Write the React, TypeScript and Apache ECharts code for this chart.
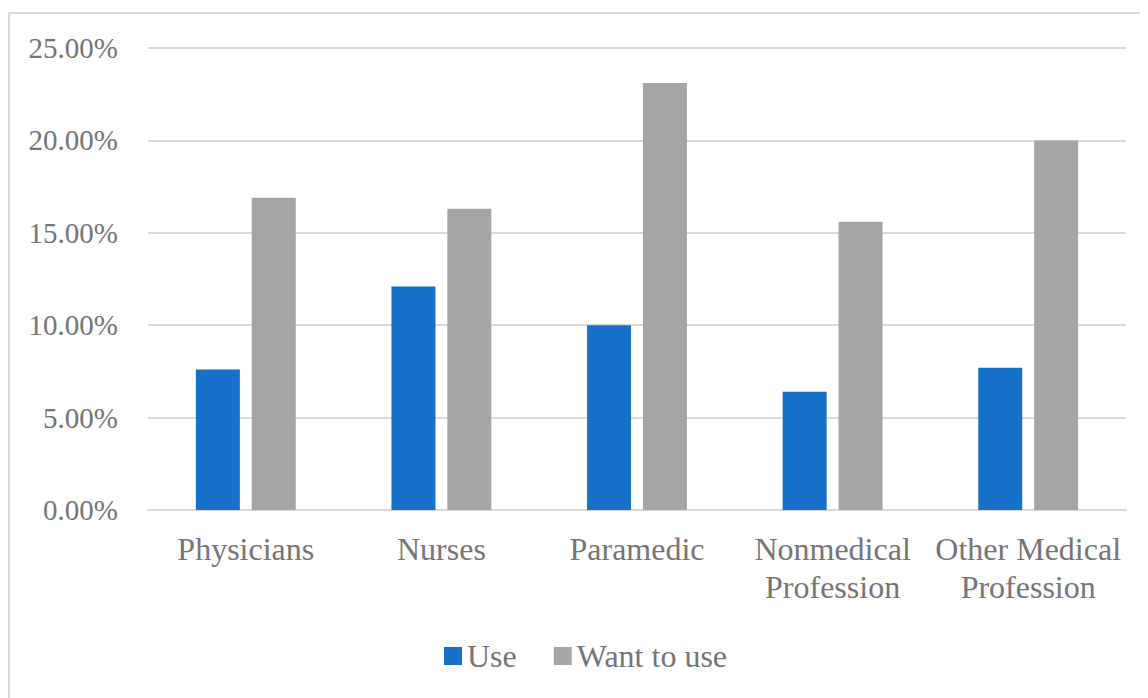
import React, { useEffect, useRef } from "react";
import * as echarts from "echarts";

const categories = ["Physicians", "Nurses", "Paramedic", "Nonmedical\nProfession", "Other Medical\nProfession"];
const useValues = [7.6, 12.1, 10.0, 6.4, 7.7];
const wantValues = [16.9, 16.3, 23.1, 15.6, 20.0];
const seriesNames = ["Use", "Want to use"];

const FONT = "'Liberation Serif', serif";
const TEXT = "#757575";

export default function App() {
  const ref = useRef<HTMLDivElement>(null);
  useEffect(() => {
    const chart = echarts.init(ref.current!, null, { renderer: "svg" });
    chart.setOption({
      animation: false,
      textStyle: { fontFamily: FONT },
      graphic: [
        { type: "line", shape: { x1: 0, y1: 5, x2: 1140, y2: 5 }, style: { stroke: "#d9d9d9", lineWidth: 2 } },
        { type: "line", shape: { x1: 1, y1: 5, x2: 1, y2: 690 }, style: { stroke: "#d9d9d9", lineWidth: 2 } },
      ],
      grid: { left: 140, right: 22, top: 40, bottom: 188, containLabel: false },
      legend: {
        data: seriesNames,
        left: 431,
        top: 627,
        icon: "rect",
        itemWidth: 18,
        itemHeight: 18,
        itemGap: 37,
        textStyle: { fontFamily: FONT, fontSize: 32, color: TEXT },
      },
      xAxis: {
        type: "category",
        data: categories,
        axisLine: { lineStyle: { color: "#d9d9d9", width: 2 } },
        axisTick: { show: false },
        axisLabel: { fontFamily: FONT, fontSize: 32, color: TEXT, margin: 20, lineHeight: 38, interval: 0 },
      },
      yAxis: {
        type: "value",
        min: 0,
        max: 25,
        interval: 5,
        axisLine: { show: false },
        axisTick: { show: false },
        splitLine: { lineStyle: { color: "#d9d9d9", width: 2 } },
        axisLabel: {
          fontFamily: FONT,
          fontSize: 29,
          color: TEXT,
          margin: 30,
          formatter: (v: number) => v.toFixed(2) + "%",
        },
      },
      series: [
        { name: seriesNames[0], type: "bar", data: useValues, barWidth: 44, barGap: "27%", itemStyle: { color: "#1871c9" } },
        { name: seriesNames[1], type: "bar", data: wantValues, barWidth: 44, barGap: "27%", itemStyle: { color: "#a5a5a5" } },
      ],
    });
    return () => chart.dispose();
  }, []);
  return <div ref={ref} style={{ width: 1140, height: 690 }} />;
}
